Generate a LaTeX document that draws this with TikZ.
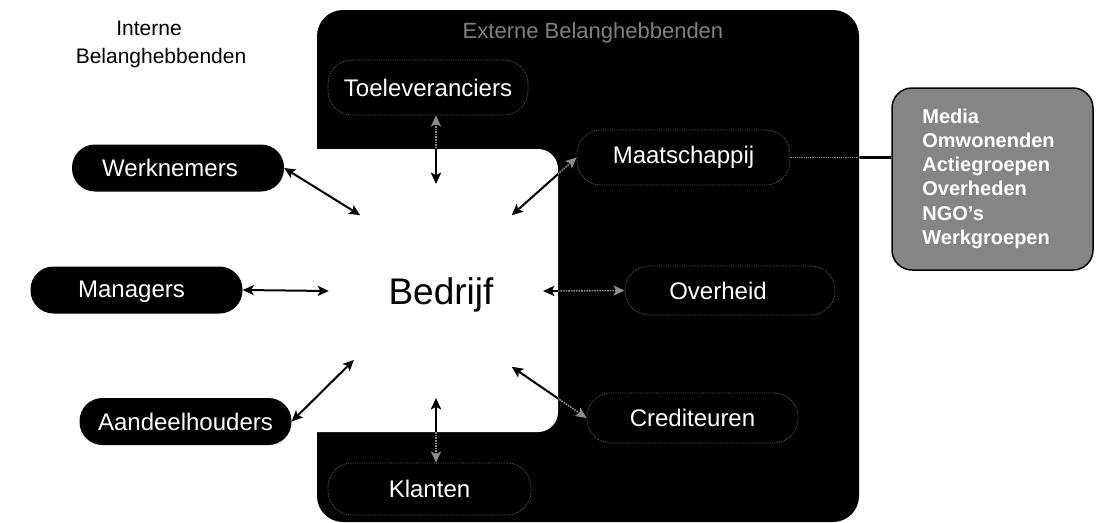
\documentclass[tikz,border=0pt]{standalone}
\usepackage{fontspec}
\setmainfont{Liberation Sans}
\usetikzlibrary{arrows.meta}
\definecolor{faint}{gray}{0.55}
\definecolor{outl}{gray}{0.38}
\definecolor{boxgray}{gray}{0.52}
\definecolor{titlegray}{gray}{0.5}
\newcommand\whiteclip{\clip[rounded corners=20pt] (280,149) rectangle (558,432);}
\newcommand\mylink[2]{%
  \draw[farr] #1 -- #2;
  \begin{scope}\whiteclip\draw[arr] #1 -- #2;\end{scope}}
\begin{document}
\begin{tikzpicture}[x=1pt,y=-1pt,
  intern/.style={fill=black,text=white,rounded corners=23pt,minimum width=212pt,
    minimum height=47pt,inner sep=0pt,font=\fontsize{24}{28}\selectfont},
  extern/.style={draw=outl,densely dotted,line width=0.8pt,text=white,rounded corners=24pt,
    inner sep=0pt,font=\fontsize{24}{28}\selectfont},
  tip/.tip={Stealth[length=11pt,width=10pt,inset=2.5pt]},
  arr/.style={tip-tip,line width=2pt,draw=black},
  farr/.style={tip-tip,line width=1.6pt,draw=faint,densely dotted}
  ]
\useasboundingbox (0,0) rectangle (1100,522);
\fill[white] (0,0) rectangle (1100,522);
% external region
\fill[black, rounded corners=26pt] (317,10) rectangle (859,522);
\fill[white, rounded corners=20pt] (280,149) rectangle (558,432);

% titles
\node[text=titlegray, font=\fontsize{22}{26}\selectfont, anchor=base] (ext) at (593,38) {Externe Belanghebbenden};
\node[align=center, font=\fontsize{21}{28}\selectfont, anchor=north, inner sep=0pt] (int) at (161,21) {Interne\hspace*{24pt}\\Belanghebbenden};

% central node
\node[circle, minimum size=214pt, inner sep=0pt, font=\fontsize{37}{40}\selectfont] (Bedrijf) at (436,291)
  {\hspace*{10pt}\raisebox{-4.4pt}[\height][\depth]{Bedrijf}};

% internal stakeholders
\node[intern] (Werk) at (178,168) {\hspace*{-16pt}Werknemers};
\node[intern] (Man) at (136.5,290) {\raisebox{-2pt}[\height][\depth]{\hspace*{-10pt}Managers}};
\node[intern] (Aand) at (185.5,421.5) {Aandeelhouders};

% external stakeholders
\node[extern, minimum width=200pt, minimum height=55pt] (Toel) at (428,87.5) {Toeleveranciers};
\node[extern, minimum width=213pt, minimum height=55pt] (Maat) at (683.5,157.5) {Maatschappij};
\node[extern, minimum width=210pt, minimum height=49pt] (Over) at (730,290.5) {\hspace*{-24pt}Overheid};
\node[extern, minimum width=211pt, minimum height=50pt] (Cred) at (692.5,418) {Crediteuren};
\node[extern, minimum width=203pt, minimum height=52pt] (Klan) at (429.5,489) {Klanten};

% group box
\node[draw=black, line width=1.5pt, fill=boxgray, rounded corners=20pt, minimum width=201pt,
  minimum height=182pt, align=left, text=white, inner sep=0pt,
  font=\bfseries\fontsize{20}{24.2}\selectfont] (grp) at (992.5,179)
  {\hspace*{-8pt}\begin{tabular}{@{}l@{}}Media\\Omwonenden\\Actiegroepen\\Overheden\\NGO's\\Werkgroepen\end{tabular}};

% internal arrows
\draw[arr] (Werk.east) -- (Bedrijf.135);
\draw[arr] (Man.east) -- (Bedrijf.west);
\draw[arr] (Aand.east) -- (Bedrijf.220);

% external arrows
\mylink{(Bedrijf.north |- Toel.south)}{(Bedrijf.north)}
\mylink{(Maat.west)}{(Bedrijf.45)}
\mylink{(Over.west)}{(Bedrijf.east)}
\mylink{(Cred.west)}{(Bedrijf.-45)}
\mylink{(Bedrijf.south |- Klan.north)}{(Bedrijf.south)}

% link to group box
\draw[faint, densely dotted, line width=1.2pt] (Maat.east) -- (Maat.east -| grp.west);
\begin{scope}
  \clip (859.5,0) rectangle (1100,522);
  \draw[line width=2.5pt] (Maat.east) -- (Maat.east -| grp.west);
\end{scope}
\end{tikzpicture}
\end{document}
